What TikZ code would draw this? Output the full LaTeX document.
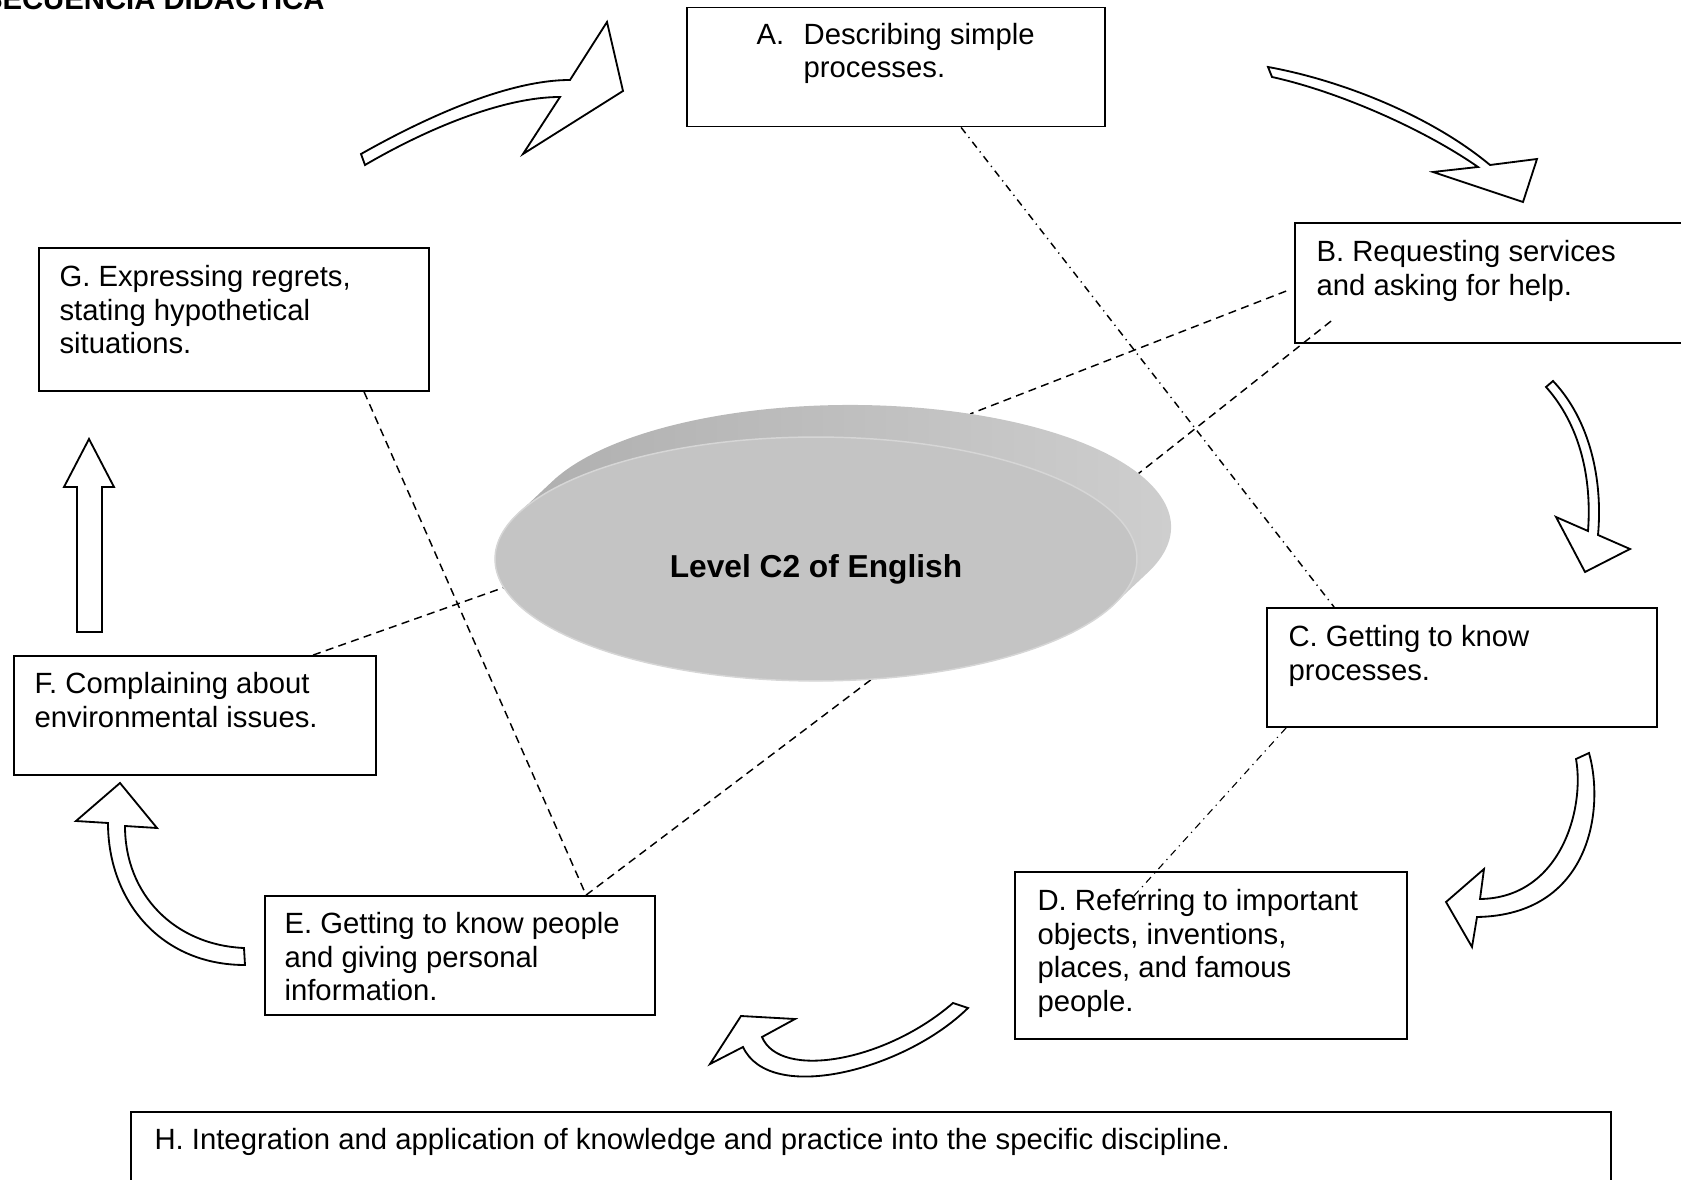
\documentclass[tikz,border=0pt]{standalone}
\usepackage{fontspec}
\setmainfont{Liberation Sans}
\usepackage{xcolor}
\definecolor{disc-face}{RGB}{196,196,196}
\definecolor{disc-rim}{RGB}{214,214,214}
\definecolor{disc-side-l}{RGB}{172,172,172}
\definecolor{disc-side-m}{RGB}{150,150,150}
\definecolor{disc-side-r}{RGB}{208,208,208}
\usetikzlibrary{calc,fit,shapes.geometric}

\begin{document}
\begin{tikzpicture}[
    x=0.41pt, y=0.41pt,
    every node/.style={inner sep=0pt},
    box/.style={draw=black, line width=0.75pt, fill=white},
    boxtext/.style={anchor=north west, align=left, font=\fontsize{12}{13.8}\selectfont},
    blockarrow/.style={draw=black, line width=0.75pt, fill=white, line join=miter},
    linkdash/.style={line width=0.6pt, dash pattern=on 3.3pt off 2.2pt},
    linkdot/.style={line width=0.6pt, dash pattern=on 3pt off 2pt on 0.5pt off 2pt}
]

\useasboundingbox (0,0) rectangle (1681,1179);
\clip (0,0) rectangle (1681,1179);

% Title, cut by the page edge
\node[font=\fontsize{12}{13.8}\selectfont\bfseries, anchor=base east] (title) at (325,1169) {SECUENCIA DIDACTICA};

% Topic boxes
\node[box, fit={(687,1052.5) (1105,1171.5)}] (A) {};
\node[box, fit={(1295,836) (1690,956)}] (B) {};
\node[box, fit={(1267,452) (1657,571)}] (C) {};
\node[box, fit={(1015,140) (1407,307)}] (D) {};
\node[box, fit={(265,164) (655,283)}] (E) {};
\node[box, fit={(14,404) (376,523)}] (F) {};
\node[box, fit={(39,788) (429,931)}] (G) {};
\node[box, fit={(131,-11) (1611,67)}] (H) {};

% Box texts (strut fixes the first baseline)
\node[boxtext] (A-text) at ($(A.north west)+(70,-13.4)$) {\strut\makebox[19.3pt][l]{A.}Describing simple\\\hspace*{19.3pt}processes.};
\node[boxtext] (B-text) at ($(B.north west)+(22,-15.4)$) {\strut B. Requesting services\\and asking for help.};
\node[boxtext] (C-text) at ($(C.north west)+(22,-15.4)$) {\strut C. Getting to know\\processes.};
\node[boxtext] (D-text) at ($(D.north west)+(23,-15.4)$) {\strut D. Referring to important\\objects, inventions,\\places, and famous\\people.};
\node[boxtext] (E-text) at ($(E.north west)+(20,-14.4)$) {\strut E. Getting to know people\\and giving personal\\information.};
\node[boxtext] (F-text) at ($(F.north west)+(21,-14.4)$) {\strut F. Complaining about\\environmental issues.};
\node[boxtext] (G-text) at ($(G.north west)+(21,-15.4)$) {\strut G. Expressing regrets,\\stating hypothetical\\situations.};
\node[boxtext] (H-text) at ($(H.north west)+(24,-14.4)$) {\strut H. Integration and application of knowledge and practice into the specific discipline.};

% Disc centres
\coordinate (front) at (816,620);
\coordinate (back) at (850,652);

% Links to the disc
\coordinate (a-out) at ($(A.south west)+(275,0)$);
\coordinate (c-in) at ($(C.north west)+(68,0)$);
\coordinate (c-out) at ($(C.south west)+(20,0)$);
\coordinate (d-in) at ($(D.north west)+(117,-28)$);
\coordinate (b-out1) at ($(B.north west)+(-8,-69)$);
\coordinate (b-out2) at ($(B.north west)+(37,-99)$);
\coordinate (f-out) at ($(F.north west)+(300,0)$);
\coordinate (g-out) at ($(G.south west)+(326,0)$);
\coordinate (e-in) at ($(E.north west)+(322,0)$);

\draw[linkdot] (a-out) -- (c-in);
\draw[linkdot, line width=0.45pt] (c-out) -- (d-in);
\draw[linkdash] (b-out1) -- ($(back)+(68:321 and 122)$);
\draw[linkdash] (b-out2) -- ($(back)+(26:321 and 122)$);
\draw[linkdash] (f-out) -- ($(front)+(193.5:321 and 122)$);
\draw[linkdash] (g-out) -- (e-in);
\draw[linkdash] (e-in) -- ($(front)+(280:321 and 122)$);

% Disc: side, then face
\shade[left color=disc-side-l, middle color=disc-side-m, right color=disc-side-r]
    ($(back)+(-22:321 and 122)$) arc[start angle=-22, end angle=158, x radius=321, y radius=122]
    -- ($(front)+(158:321 and 122)$) arc[start angle=158, end angle=338, x radius=321, y radius=122]
    -- cycle;
\node[ellipse, minimum width=263.2pt, minimum height=100pt, fill=disc-face, draw=disc-rim, line width=0.6pt] (core) at (front) {};
\node[font=\fontsize{13}{15}\selectfont\bfseries] (core-label) at (816,610) {Level C2 of English};

% Block arrows round the cycle
\draw[blockarrow] (361,1025) .. controls (430,1064) and (510,1099) .. (570,1099)
    -- (607,1157) -- (623,1088) -- (523,1025) -- (560,1082)
    .. controls (505,1082) and (430,1052) .. (365,1014) -- cycle;
\draw[blockarrow] (1268,1112) .. controls (1340,1099) and (1430,1064) .. (1490,1014)
    -- (1537,1020) -- (1523,977) -- (1433,1007) -- (1478,1012)
    .. controls (1425,1049) and (1340,1087) .. (1272,1102) -- cycle;
\draw[blockarrow] (1553,798) .. controls (1590,759) and (1603,699) .. (1598,644)
    -- (1630,630) -- (1585,607) -- (1556,662) -- (1588,648)
    .. controls (1592,701) and (1580,754) .. (1546,792) -- cycle;
\draw[blockarrow] (1589,426) .. controls (1605,369) and (1590,264) .. (1477,262)
    -- (1472,232) -- (1446,277) -- (1484,310) -- (1480,280)
    .. controls (1560,281) and (1585,369) .. (1576,420) -- cycle;
\draw[blockarrow] (968,171) .. controls (905,109) and (770,74) .. (743,132)
    -- (710,115) -- (741,163) -- (795,160) -- (762,142)
    .. controls (780,99) and (885,117) .. (953,176) -- cycle;
\draw[blockarrow] (245,214) .. controls (160,214) and (108,279) .. (108,356)
    -- (76,358) -- (120,396) -- (157,351) -- (125,353)
    .. controls (125,284) and (175,234) .. (244,231) -- cycle;
\draw[blockarrow] (77,547) -- (77,692) -- (64,692) -- (89,740)
    -- (114,692) -- (102,692) -- (102,547) -- cycle;

\end{tikzpicture}
\end{document}
